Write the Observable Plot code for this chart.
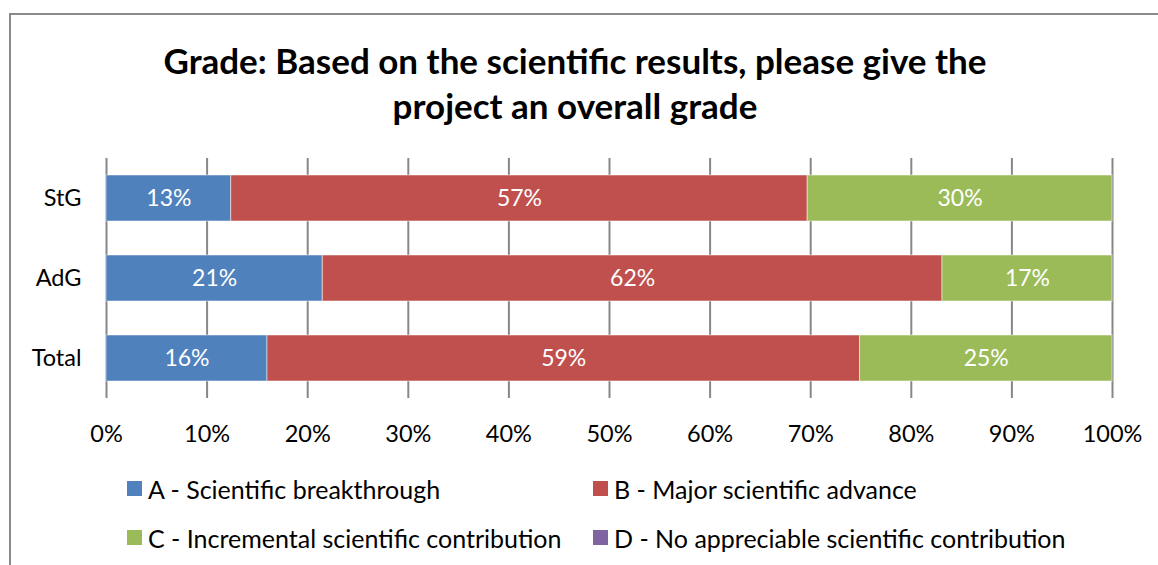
<!DOCTYPE html>
<html><head><meta charset="utf-8">
<script src="https://cdn.jsdelivr.net/npm/d3@7"></script>
<script src="https://cdn.jsdelivr.net/npm/@observablehq/plot@0.6"></script>
<style>
body{margin:0;background:#fff;font-family:Lato, "Open Sans", sans-serif;width:1158px;height:565px;overflow:hidden;position:relative;}
#frame{position:absolute;left:9px;top:13px;width:1149px;height:552px;border-left:2px solid #8a8a8a;border-top:2px solid #8a8a8a;box-sizing:border-box;}
#title{position:absolute;left:0;width:1150px;top:38px;text-align:center;font-weight:bold;font-size:35px;line-height:45px;color:#000;}
#chart{position:absolute;left:0;top:140px;}
.leg{position:absolute;display:flex;align-items:center;font-size:25px;color:#000;white-space:nowrap;}
.sw{width:15px;height:15px;margin-right:6px;flex:none;}
</style></head>
<body>
<div id="frame"></div>
<div id="title">Grade: Based on the scientific results, please give the<br>project an overall grade</div>
<div id="chart"></div>
<div id="legend"></div>
<script>
const groups = ["StG", "AdG", "Total"];
const grades = ["A - Scientific breakthrough", "B - Major scientific advance", "C - Incremental scientific contribution", "D - No appreciable scientific contribution"];
const colors = ["#4F81BD", "#C0504D", "#9BBB59", "#8064A2"];
const gradeA = [12.4, 21.5, 16.0];
const gradeB = [57.3, 61.6, 58.9];
const gradeC = [30.3, 16.9, 25.1];
const gradeD = [0, 0, 0];
const labelA = ["13%", "21%", "16%"];
const labelB = ["57%", "62%", "59%"];
const labelC = ["30%", "17%", "25%"];
const labelD = ["", "", ""];
const xTicks = [0, 10, 20, 30, 40, 50, 60, 70, 80, 90, 100];

const seriesVals = [gradeA, gradeB, gradeC, gradeD];
const seriesLabels = [labelA, labelB, labelC, labelD];
const rows = [];
groups.forEach((g, i) => {
  grades.forEach((gr, j) => {
    rows.push({group: g, grade: gr, value: seriesVals[j][i], label: seriesLabels[j][i]});
  });
});

const chart = Plot.plot({
  width: 1158, height: 318,
  marginLeft: 106, marginRight: 46, marginTop: 18, marginBottom: 60,
  style: {fontFamily: "Lato, 'Open Sans', sans-serif", fontSize: "23.5px", color: "#000", background: "transparent"},
  x: {domain: [0, 100], ticks: xTicks, tickFormat: d => d + "%", label: null, tickSize: 0, tickPadding: 27},
  y: {domain: groups, label: null, tickSize: 0, tickPadding: 25, paddingInner: 0.425, paddingOuter: 0.2125},
  color: {domain: grades, range: colors},
  marks: [
    Plot.ruleX(xTicks, {stroke: "#878787", strokeWidth: 2, strokeOpacity: 1}),
    Plot.barX(rows, Plot.stackX({x: "value", y: "group", fill: "grade", stroke: "#fff", strokeWidth: 1, strokeOpacity: 0.5})),
    Plot.text(rows, Plot.stackX({x: "value", y: "group", z: "grade", text: "label", fill: "white", fontSize: 23}))
  ]
});
document.getElementById("chart").appendChild(chart);

const legend = document.getElementById("legend");
const pos = [[127, 481], [593, 481], [127, 530], [593, 530]];
grades.forEach((g, i) => {
  const d = document.createElement("div");
  d.className = "leg";
  d.style.left = pos[i][0] + "px";
  d.style.top = (pos[i][1] - 7) + "px";
  d.style.height = "29px";
  d.innerHTML = `<span class="sw" style="background:${colors[i]}"></span><span>${g}</span>`;
  legend.appendChild(d);
});
</script>
</body></html>
